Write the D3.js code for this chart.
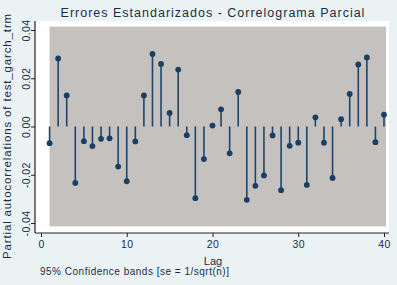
<!DOCTYPE html>
<html>
<head>
<meta charset="utf-8">
<script src="https://cdn.jsdelivr.net/npm/d3@7/dist/d3.min.js"></script>
<style>
  body { margin: 0; background: #eaf2f3; }
  svg text { font-family: Arial, "Liberation Sans", sans-serif; fill: #1c2c48; }
</style>
</head>
<body>
<div id="chart"></div>
<script>
// Partial autocorrelations, lags 1..40
const lags = d3.range(1, 41);
const pac = [
  -0.0069, 0.0282, 0.0129, -0.0234, -0.0061, -0.0081, -0.0051, -0.0049, -0.0166, -0.0227,
  -0.0062, 0.0129, 0.0301, 0.0259, 0.0056, 0.0236, -0.0036, -0.0297, -0.0135, 0.0004,
  0.0071, -0.0111, 0.0143, -0.0304, -0.0246, -0.0203, -0.0037, -0.0264, -0.0080, -0.0067,
  -0.0242, 0.0038, -0.0067, -0.0213, 0.0030, 0.0135, 0.0257, 0.0286, -0.0065, 0.0049
];
const bandHalf = 0.0414;   // 1.96 / sqrt(n)
const xTicks = [0, 10, 20, 30, 40];
const yTicks = [-0.04, -0.02, 0, 0.02, 0.04];

const width = 397, height = 285;
const plot = { left: 35, right: 389, top: 21, bottom: 233 };

const svg = d3.select('#chart').append('svg')
  .attr('width', width)
  .attr('height', height);

svg.append('rect')
  .attr('width', width).attr('height', height)
  .attr('fill', '#eaf2f3');

// plot region
svg.append('rect')
  .attr('x', plot.left).attr('y', plot.top)
  .attr('width', plot.right - plot.left)
  .attr('height', plot.bottom - plot.top)
  .attr('fill', '#ffffff');

const x = d3.scaleLinear().domain([0, 40]).range([41, 384]);
const y = d3.scaleLinear().domain([-0.04, 0.04]).range([223, 30]);

// confidence band
svg.append('rect')
  .attr('x', x(1))
  .attr('y', y(bandHalf))
  .attr('width', x(40) - x(1) + 2)
  .attr('height', y(-bandHalf) - y(bandHalf))
  .attr('fill', '#c4c1be');

// stems
const data = lags.map((l, i) => ({ lag: l, v: pac[i] }));
svg.append('g')
  .selectAll('line')
  .data(data)
  .enter()
  .append('line')
  .attr('x1', d => x(d.lag)).attr('x2', d => x(d.lag))
  .attr('y1', y(0)).attr('y2', d => y(d.v))
  .attr('stroke', '#1e4569')
  .attr('stroke-width', 1.6);

svg.append('g')
  .selectAll('circle')
  .data(data)
  .enter()
  .append('circle')
  .attr('cx', d => x(d.lag))
  .attr('cy', d => y(d.v))
  .attr('r', 2.9)
  .attr('fill', '#1a3f63');

// axes
const xAxis = d3.axisBottom(x).tickValues(xTicks).tickSize(4).tickSizeOuter(0);
const gx = svg.append('g')
  .attr('transform', `translate(0, ${plot.bottom})`)
  .call(xAxis);
gx.select('.domain').attr('d', `M${plot.left},0H${plot.right}`);

const yAxis = d3.axisLeft(y).tickValues(yTicks).tickSize(4).tickSizeOuter(0)
  .tickFormat(d => d3.format('.2f')(d).replace('−', '-'));
const gy = svg.append('g')
  .attr('transform', `translate(${plot.left}, 0)`)
  .call(yAxis);
gy.select('.domain').attr('d', `M0,${plot.top}V${plot.bottom}`);

[gx, gy].forEach(g => {
  g.selectAll('.domain').attr('stroke', '#222').attr('stroke-width', 1.2);
  g.selectAll('.tick line').attr('stroke', '#222').attr('stroke-width', 1);
  g.selectAll('.tick text').style('font-size', '10.5px').style('fill', '#1c2c48')
    .style('letter-spacing', '0.4px');
});
gx.selectAll('.tick text').attr('y', 8);
gy.selectAll('.tick text')
  .attr('transform', 'rotate(-90)')
  .attr('x', 0)
  .attr('y', -5)
  .attr('dy', 0)
  .attr('text-anchor', 'middle');

// titles
svg.append('text')
  .attr('x', 213).attr('y', 17)
  .attr('text-anchor', 'middle')
  .style('font-size', '12.5px')
  .style('letter-spacing', '1px')
  .text('Errores Estandarizados - Correlograma Parcial');

svg.append('text')
  .attr('transform', `translate(11, 136) rotate(-90)`)
  .attr('text-anchor', 'middle')
  .style('font-size', '11.5px')
  .style('letter-spacing', '0.85px')
  .text('Partial autocorrelations of test_garch_trm');

svg.append('text')
  .attr('x', 213).attr('y', 265)
  .attr('text-anchor', 'middle')
  .style('font-size', '11px')
  .text('Lag');

svg.append('text')
  .attr('x', 40).attr('y', 275)
  .style('font-size', '10px')
  .style('letter-spacing', '0.5px')
  .text('95% Confidence bands [se = 1/sqrt(n)]');
</script>
</body>
</html>
